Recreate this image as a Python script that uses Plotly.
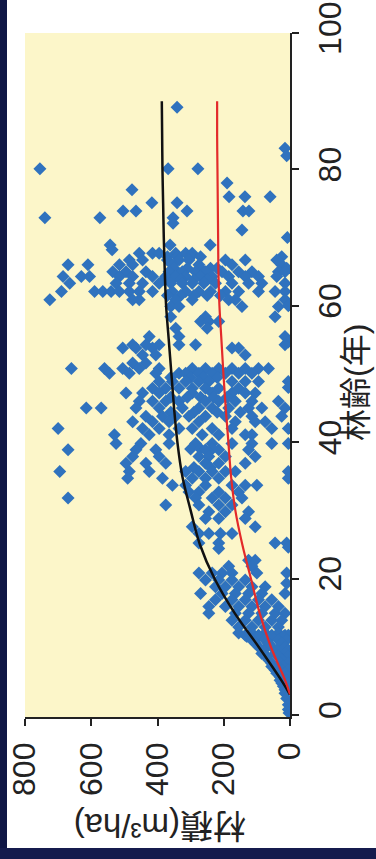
import plotly.graph_objects as go

# ---------------- data ----------------
# stand age (years) -> list of stand volumes (m3/ha)
rows_old = [
    (89.1, [341]), (83.1, [15]), (82.0, [10]), (80.1, [755, 368, 278]),
    (78.0, [190]), (77.0, [477]), (76.0, [184, 136, 60]), (75.1, [417, 341]),
    (73.9, [504, 465, 311, 142, 124]), (72.9, [740, 574, 353]), (72.1, [353]),
    (71.1, [145]), (70.0, [8]), (68.9, [543, 362, 241]), (68.2, [537]),
]
rows_60s = [
    (67.7, [455, 415, 395, 345, 315, 295]),
    (67.2, [370, 340, 300, 270, 25]),
    (66.7, [485, 445, 370, 335, 305, 195, 135, 40]),
    (66.0, [670, 610, 515, 475, 355, 275, 175, 25]),
    (65.5, [350, 310, 270, 240, 220, 10]),
    (65.0, [535, 495, 435, 365, 325, 285, 255, 205, 155, 115, 35, 15]),
    (64.3, [685, 630, 605, 515, 475, 415, 375, 345, 315, 270, 235, 185, 135, 95, 40]),
    (63.8, [380, 330, 290, 250]),
    (63.3, [665, 525, 485, 445, 395, 360, 325, 295, 260, 225, 175, 125, 85, 15]),
    (62.1, [690, 590, 565, 540, 515, 485, 455, 415, 355, 315, 275, 240, 195, 155, 95, 45, 15]),
    (61.5, [370, 330, 290, 250, 210]),
    (60.9, [725, 475, 455, 345, 295, 185, 165, 15]),
    (60.0, [5]),
    (59.9, [360, 335, 145, 35]),
    (58.4, [360, 255, 45]),
    (57.7, [270, 245, 215]),
    (56.7, [345, 250]),
    (55.5, [425, 335, 15]),
]
rows_40s = [
    (54.7, [5]),
    (54.3, [475, 435, 395, 335, 285, 15]),
    (53.8, [505, 465, 415, 175, 155]),
    (52.8, [445, 405, 135]),
    (51.6, [475, 435]),
    (50.8, [660, 560, 505, 455, 395, 295, 255, 215, 175, 135, 95, 65]),
    (50.1, [545, 485, 405, 335, 315, 275, 235, 195, 155, 115]),
    (49.5, [360, 300, 260, 220]),
    (48.9, [395, 355, 315, 275, 245, 175, 135, 95, 5]),
    (48.0, [5]),
    (47.9, [415, 375, 335, 295, 255, 215, 155]),
    (47.2, [495, 445, 395, 295, 235, 175, 135, 105]),
    (46.6, [360, 310, 270, 230, 190]),
    (46.0, [455, 415, 375, 335, 255, 215, 165, 115, 35]),
    (45.0, [615, 570, 465, 395, 325, 275, 235, 185, 125, 85, 15]),
    (44.4, [360, 290, 220, 150]),
    (43.8, [435, 385, 345, 305, 255, 195, 115, 25]),
    (43.0, [475, 415, 365, 275, 165, 105, 75]),
    (42.0, [700, 445, 395, 335, 295, 235, 175, 55, 5]),
    (41.1, [530, 425, 365, 265, 215, 135, 115]),
]
rows_30s = [
    (39.8, [525, 450, 365, 285, 235, 175, 115, 55, 5]),
    (39.0, [300, 270, 235]),
    (38.9, [670, 465, 405, 255, 215, 125]),
    (37.9, [475, 395, 275, 245, 195, 105]),
    (36.9, [495, 435, 375, 255, 215, 135]),
    (36.3, [290, 240]),
    (35.7, [695, 485, 425, 315, 275, 235, 195, 165, 5]),
    (34.7, [490, 385, 295, 255, 215, 5]),
    (33.7, [355, 315, 255, 175, 135, 100]),
    (32.7, [305, 275, 215, 155]),
    (31.8, [670, 285, 235, 195, 145]),
    (30.8, [375, 275, 215, 175]),
    (29.8, [245, 195, 125]),
    (28.8, [255, 215, 135]),
    (27.6, [295, 105]),
    (26.6, [275, 245, 210, 175]),
]
rows_young = [
    (25.2, [275, 215, 45, 10]), (24.6, [5]), (24.4, [215]),
    (22.7, [125, 105]), (21.8, [185, 115]),
    (20.8, [275, 235, 205, 175, 100, 10]),
    (19.8, [255, 215, 175, 135]), (19.3, [10]),
    (18.8, [225, 195, 155, 115, 75]),
    (17.8, [270, 205, 165, 125, 85, 15]),
    (16.9, [225, 175, 135, 95, 55]),
    (15.9, [245, 195, 155, 115, 75, 35]),
    (14.9, [245, 165, 125, 85, 45, 15]),
    (13.9, [175, 135, 95, 55, 25]),
    (12.9, [155, 115, 75, 35]),
    (12.0, [155, 115, 75, 35]),
    (11.7, [135, 95, 55, 15, 5]),
    (11.5, [130, 95, 55, 20]),
    (11.0, [115, 75, 35, 10]),
    (10.5, [105, 65, 25]),
    (10.0, [95, 55, 15]),
    (9.5, [80, 40, 5]),
    (9.0, [85, 45, 15]),
    (8.6, [70, 35, 5]),
    (8.1, [65, 25]),
    (7.6, [55, 30, 5]),
    (7.1, [55, 20]),
    (6.6, [45, 25, 5]),
    (6.1, [40, 15]),
    (5.6, [30, 10]),
    (5.1, [30, 10]),
    (4.7, [25, 5]),
    (4.2, [20]),
    (3.7, [15, 5]),
    (3.2, [15]),
    (2.4, [10]), (1.5, [5]), (0.8, [5]), (0.3, [3]),
]

# fitted curves
curve_age = [3, 5, 10, 15, 20, 25, 30, 35, 40, 45, 50, 55, 60, 65, 70, 75, 80, 85, 90]
curve_black = [0, 25, 95, 168, 228, 272, 300, 325, 340, 350, 358, 366, 374, 378, 381, 383, 385, 386, 387]
curve_red = [0, 14, 58, 92, 118, 144, 165, 178, 186, 194, 201, 207, 213, 216, 217, 218, 219, 220, 220]

vol_ticks = [0, 200, 400, 600, 800]
age_ticks = [0, 20, 40, 60, 80, 100]
x_title = "材積(m³/ha)"
y_title = "林齢(年)"

# ---------------- figure ----------------
pt_age, pt_vol = [], []
for rows in (rows_old, rows_60s, rows_40s, rows_30s, rows_young):
    for a, vols in rows:
        for v in vols:
            pt_age.append(a)
            pt_vol.append(v)

W, H = 376, 859
L, R, T, B = 25, 290, 33, 717  # plot area in pixels

FONT = "Liberation Sans, Arial, Noto Sans CJK JP, sans-serif"

fig = go.Figure()
fig.add_trace(go.Scatter(
    x=pt_vol, y=pt_age, mode="markers",
    marker=dict(symbol="diamond", size=10, color="#2f72be", line=dict(width=0)),
    showlegend=False, hoverinfo="skip"))
fig.add_trace(go.Scatter(
    x=curve_black, y=curve_age, mode="lines", line=dict(color="#111111", width=2.5, shape="spline"),
    showlegend=False, hoverinfo="skip"))
fig.add_trace(go.Scatter(
    x=curve_red, y=curve_age, mode="lines", line=dict(color="#e32a2a", width=2.2, shape="spline"),
    showlegend=False, hoverinfo="skip"))

def px(xp):
    return (xp - L) / (R - L)

def py(yp):
    return (B - yp) / (B - T)

shapes = [
    dict(type="rect", xref="paper", yref="paper", x0=px(0), x1=px(7), y0=py(H), y1=py(0),
         fillcolor="#0f1645", line=dict(width=0), layer="below"),
    dict(type="rect", xref="paper", yref="paper", x0=px(0), x1=px(W), y0=py(H), y1=py(848),
         fillcolor="#151b4d", line=dict(width=0), layer="below"),
]

fig.update_layout(
    width=W, height=H, autosize=False,
    margin=dict(l=L, r=W - R, t=T, b=H - B, pad=0, autoexpand=False),
    paper_bgcolor="white", plot_bgcolor="#fcf6c9",
    font=dict(family=FONT, size=32, color="#222222"),
    shapes=shapes,
    xaxis=dict(range=[800, 0], tickvals=vol_ticks, ticktext=[str(v) for v in vol_ticks],
               tickangle=-90, ticks="outside", ticklen=7, tickwidth=1.5, tickcolor="#222",
               showline=True, linecolor="#222", linewidth=1.5, showgrid=False, zeroline=False,
               ticklabelstandoff=4, tickfont=dict(size=32), automargin=False),
    yaxis=dict(range=[-0.3, 100], side="right", tickvals=age_ticks, ticktext=[str(v) for v in age_ticks],
               tickangle=-90, ticks="outside", ticklen=7, tickwidth=1.5, tickcolor="#222",
               showline=True, linecolor="#222", linewidth=1.5, showgrid=False, zeroline=False,
               ticklabelstandoff=4, tickfont=dict(size=32), automargin=False),
    annotations=[
        dict(text=x_title, xref="paper", yref="paper", x=px(160), y=py(826),
             showarrow=False, textangle=180, font=dict(size=33), xanchor="center", yanchor="middle"),
        dict(text=y_title, xref="paper", yref="paper", x=px(356), y=py(383),
             showarrow=False, textangle=-90, font=dict(size=32), xanchor="center", yanchor="middle"),
    ],
)

fig.write_html("out.html", config={"displayModeBar": False},
               post_script="document.body.style.margin='0';document.body.style.overflow='hidden';")
